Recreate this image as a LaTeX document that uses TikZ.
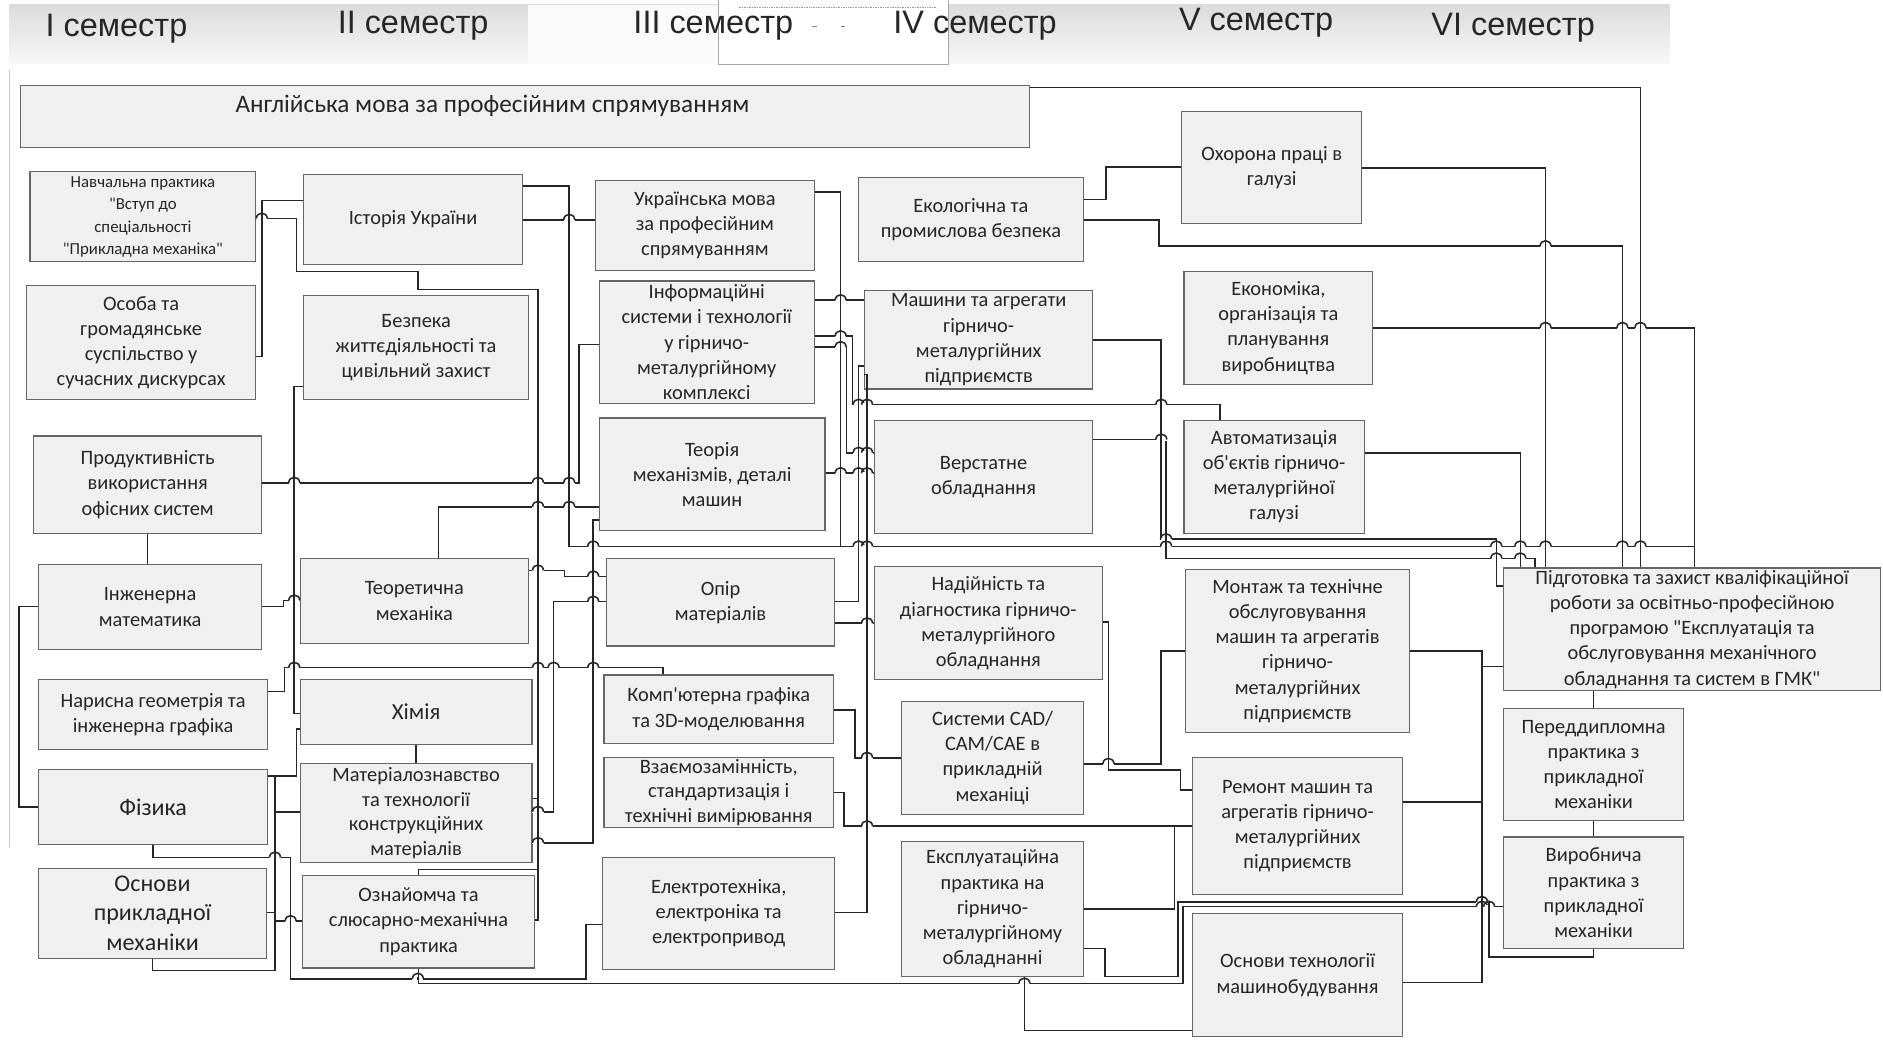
\documentclass[tikz,border=0pt]{standalone}
\usepackage{fontspec}
\setmainfont{Carlito}[Ligatures=TeXOff]
\newfontfamily\hdrfont{Liberation Sans}
\newcommand\mybox[7][]{\node[box,minimum width={(#5-#3)*1pt},minimum height={(#6-#4)*1pt},#1] (#2) at ({(#3+#5)/2},{(#4+#6)/2}) {#7};}
\newcommand\hop[2]{\fill[white] ({#1-4.6},{#2-1.1}) rectangle ({#1+4.6},{#2+1.1});
  \draw[ln] (#1,{#2-1.3}) -- (#1,{#2+1.3});
  \draw[ln] ({#1-4.6},#2) .. controls ({#1-4.2},{#2-6}) and ({#1+4.2},{#2-6}) .. ({#1+4.6},#2);}
\begin{document}
\begin{tikzpicture}[x=1pt,y=-1pt,
  box/.style={draw=black!60,fill=black!6,line width=1pt,inner sep=0pt,align=center,text=black!85,font=\fontsize{17}{21}\selectfont},
  ln/.style={draw=black!85,line width=1.3pt},
  hd/.style={font=\hdrfont\fontsize{27}{30}\selectfont,inner sep=0pt,text=black!85}]
\fill[white] (0,0) rectangle (1568,866);
\useasboundingbox (0,0) rectangle (1568,866);
% header band
\shade[top color=black!14,bottom color=black!3] (8,4) rectangle (1390,53);
\fill[black!2] (440,4) rectangle (598,53);
\fill[white] (598,0) rectangle (790,54);
\draw[black!35,line width=0.8pt] (598,0) -- (598,54) -- (790,54) -- (790,0);
\draw[black!40,densely dotted] (615,6) -- (780,6);
\draw[black!50] (676,22) -- (680,22) (700,22) -- (704,22);
\draw[black!20,line width=1pt] (8,58) -- (8,705);
\node[hd] (h1) at (97,24) {I семестр};
\node[hd] (h2) at (344,21) {II семестр};
\node[hd] (h3) at (594,21) {III семестр};
\node[hd] (h4) at (812,21) {IV семестр};
\node[hd] (h5) at (1046,19) {V семестр};
\node[hd] (h6) at (1260,23) {VI семестр};
% boxes
\mybox{A}{17}{71}{857}{123}{}
\node[font=\fontsize{21}{24}\selectfont,text=black!85] (At) at (410,88) {Англійська мова за професійним спрямуванням};
\mybox[font=\fontsize{14}{18.7}\selectfont]{B}{25}{143}{213}{218}{Навчальна практика\\"Вступ до\\спеціальності\\"Прикладна механіка"}
\mybox{C}{253}{145}{435}{220}{Історія України}
\mybox{D}{22}{238}{213}{333}{Особа та\\громадянське\\суспільство у\\сучасних дискурсах}
\mybox{E}{253}{246}{440}{333}{Безпека\\життєдіяльності та\\цивільний захист}
\mybox{F}{28}{363}{218}{444}{Продуктивність\\використання\\офісних систем}
\mybox{G}{32}{470}{218}{541}{Інженерна\\математика}
\mybox{H}{250}{465}{440}{536}{Теоретична\\механіка}
\mybox{I}{32}{566}{223}{624}{Нарисна геометрія та\\інженерна графіка}
\mybox[font=\fontsize{19}{23}\selectfont]{J}{250}{566}{443}{620}{Хімія}
\mybox[font=\fontsize{20}{23}\selectfont]{K}{32}{641}{223}{703}{Фізика}
\mybox[font=\fontsize{17}{20.5}\selectfont]{L}{250}{636}{443}{718}{Матеріалознавство\\та технології\\конструкційних\\матеріалів}
\mybox[font=\fontsize{20}{24.5}\selectfont]{M}{32}{723}{222}{798}{Основи\\прикладної\\механіки}
\mybox{N}{252}{729}{445}{806}{Ознайомча та\\слюсарно-механічна\\практика}
\mybox{O}{496}{150}{678}{225}{Українська мова\\за професійним\\спрямуванням}
\mybox{P}{499}{234}{678}{336}{Інформаційні\\системи і технології\\у гірничо-\\металургійному\\комплексі}
\mybox{Q}{499}{348}{687}{442}{Теорія\\механізмів, деталі\\машин}
\mybox{R}{505}{465}{695}{538}{Опір\\матеріалів}
\mybox{S}{503}{562}{694}{619}{Комп'ютерна графіка\\та 3D-моделювання}
\mybox[font=\fontsize{17}{20.5}\selectfont]{T}{503}{631}{694}{689}{Взаємозамінність,\\стандартизація і\\технічні вимірювання}
\mybox{U}{502}{714}{695}{807}{Електротехніка,\\електроніка та\\електропривод}
\mybox{V}{715}{148}{902}{218}{Екологічна та\\промислова безпека}
\mybox{W}{720}{242}{910}{324}{Машини та агрегати\\гірничо-\\металургійних\\підприємств}
\mybox{X}{728}{350}{910}{444}{Верстатне\\обладнання}
\mybox{Y}{728}{472}{918}{566}{Надійність та\\діагностика гірничо-\\металургійного\\обладнання}
\mybox{Z}{751}{584}{902}{678}{Системи CAD/\\CAM/CAE в\\прикладній\\механіці}
\mybox{AA}{751}{701}{902}{813}{Експлуатаційна\\практика на\\гірничо-\\металургійному\\обладнанні}
\mybox{AB}{984}{93}{1134}{186}{Охорона праці в\\галузі}
\mybox{AC}{986}{226}{1143}{320}{Економіка,\\організація та\\планування\\виробництва}
\mybox{AD}{986}{350}{1136}{444}{Автоматизація\\об'єктів гірничо-\\металургійної\\галузі}
\mybox{AE}{987}{474}{1174}{610}{Монтаж та технічне\\обслуговування\\машин та агрегатів\\гірничо-\\металургійних\\підприємств}
\mybox{AF}{993}{631}{1168}{745}{Ремонт машин та\\агрегатів гірничо-\\металургійних\\підприємств}
\mybox{AG}{993}{761}{1168}{863}{Основи технології\\машинобудування}
\mybox{AH}{1252}{473}{1566}{575}{Підготовка та захист кваліфікаційної\\роботи за освітньо-професійною\\програмою "Експлуатація та\\обслуговування механічного\\обладнання та систем в ГМК"}
\mybox{AI}{1252}{590}{1402}{683}{Переддипломна\\практика з\\прикладної\\механіки}
\mybox{AJ}{1252}{697}{1402}{790}{Виробнича\\практика з\\прикладної\\механіки}
% connectors
\draw[ln] (D.east|-0,297) -| (218,167) -- (C.west|-0,167);
\draw[ln] (B.east|-0,182) -| (247,226) -| (348,241) -| (448,766) -- (N.east|-0,766);
\draw[ln] (N.north) -- (N.north|-0,724) -- (448,724);
\draw[ln] (L.east|-0,665) -- (448,665);
\draw[ln] (C.east|-0,183) -- (O.west|-0,183);
\draw[ln] (C.east|-0,155) -| (474,455) -- (1411,455);
\draw[ln] (AC.east|-0,273) -| (AH.north-|1411,0);
\draw[ln] (A.east|-0,73) -| (AH.north-|1366,0);
\draw[ln] (AB.east|-0,140) -| (AH.north-|1287,0);
\draw[ln] (V.east|-0,166) -| (921,139) -- (AB.west|-0,139);
\draw[ln] (V.east|-0,183) -| (965,205) -| (AH.north-|1351,0);
\draw[ln] (AD.east|-0,377) -| (AH.north-|1266,0);
\draw[ln] (W.east|-0,283) -| (967,449) -| (1246,488) -- (AH.west|-0,488);
\draw[ln] (X.east|-0,366) -| (971,465) -| (AH.north-|1278,0);
\draw[ln] (P.east|-0,250) -- (W.west|-0,250);
\draw[ln] (P.east|-0,280) -| (710,337) -| (AD.north-|1016,0);
\draw[ln] (P.east|-0,289) -| (705,377) -- (X.west|-0,377);
\draw[ln] (O.east|-0,160) -| (700,455);
\draw[ln] (F.east|-0,402) -| (482,287) -- (P.west|-0,287);
\draw[ln] (H.north-|365,0) -- (365,422) -- (Q.west|-0,422);
\draw[ln] (Q.east|-0,394) -- (X.west|-0,394);
\draw[ln] (H.east|-0,475) -| (470,480) -- (R.west|-0,480);
\draw[ln] (L.east|-0,676) -| (461,501) -- (R.west|-0,501);
\draw[ln] (L.east|-0,702) -| (494,433) -- (Q.west|-0,433);
\draw[ln] (I.east|-0,576) -| (237,556) -| (S.north-|552,0);
\draw[ln] (G.east|-0,505) -| (236,500) -- (H.west|-0,500);
\draw[ln] (G.west|-0,505) -| (16,672) -- (K.west|-0,672);
\draw[ln] (F.south) -- (F.south|-G.north);
\draw[ln] (E.west|-0,322) -| (245,594) -- (J.west|-0,594);
\draw[ln] (K.east|-0,646) -| (247,607) -- (J.west|-0,607);
\draw[ln] (229,646) -- (229,676) -- (L.west|-0,676);
\draw[ln] (J.south) -- (J.south|-L.north);
\draw[ln] (M.south) -- (M.south|-0,808) -| (229,676);
\draw[ln] (M.east|-0,760) -- (229,760);
\draw[ln] (229,767) -- (N.west|-0,767);
\draw[ln] (K.south) -- (K.south|-0,714) -| (242,815) -| (488,770) -- (U.west|-0,770);
\draw[ln] (N.south) -- (N.south|-0,819) -| (985,755) -- (AJ.west|-0,755);
\draw[ln] (AA.south-|853,0) -- (853,858) -- (AG.west|-0,858);
\draw[ln] (AA.east|-0,790) -| (920,813) -| (981,751) -| (1240,797) -| (AJ.south);
\draw[ln] (AA.east|-0,757) -| (978,688);
\draw[ln] (T.east|-0,660) -| (703,688) -- (AF.west|-0,688);
\draw[ln] (S.east|-0,591) -| (712,631) -- (Z.west|-0,631);
\draw[ln] (R.east|-0,501) -| (715,305) -- (W.west|-0,305);
\draw[ln] (U.east|-0,760) -| (722,312) -- (W.west|-0,312);
\draw[ln] (R.east|-0,519) -- (Y.west|-0,519);
\draw[ln] (Y.east|-0,518) -| (923,641) -| (983,658) -- (AF.west|-0,658);
\draw[ln] (Z.east|-0,636) -| (967,542) -- (AE.west|-0,542);
\draw[ln] (AE.east|-0,542) -| (1234,555) -- (AH.west|-0,555);
\draw[ln] (AF.east|-0,668) -| (1234,555);
\draw[ln] (AG.east|-0,818) -| (1234,555);
\draw[ln] (AI.north) -- (AI.north|-AH.south);
\draw[ln] (AJ.north) -- (AI.south);
% line jumps
\hop{218}{182}\hop{474}{183}
\hop{245}{402}\hop{448}{402}\hop{474}{402}
\hop{448}{422}\hop{474}{422}
\hop{700}{250}\hop{700}{280}\hop{700}{289}
\hop{700}{394}\hop{715}{394}\hop{722}{394}
\hop{715}{377}\hop{722}{377}
\hop{715}{337}\hop{722}{337}\hop{967}{337}\hop{967}{366}
\hop{494}{455}\hop{715}{455}\hop{722}{455}\hop{971}{455}\hop{1246}{455}\hop{1266}{455}\hop{1287}{455}\hop{1351}{455}\hop{1366}{455}
\hop{971}{449}\hop{1246}{465}\hop{1266}{465}
\hop{1287}{205}\hop{1287}{273}\hop{1351}{273}\hop{1366}{273}
\hop{448}{475}\hop{494}{480}\hop{494}{501}\hop{245}{500}
\hop{245}{556}\hop{448}{556}\hop{461}{556}\hop{494}{556}
\hop{229}{714}\hop{242}{767}\hop{348}{815}\hop{853}{819}
\hop{722}{688}\hop{722}{631}\hop{923}{636}\hop{722}{519}
\hop{1234}{751}\hop{1234}{755}\hop{1240}{755}
\hop{448}{676}\hop{448}{702}
\end{tikzpicture}
\end{document}
